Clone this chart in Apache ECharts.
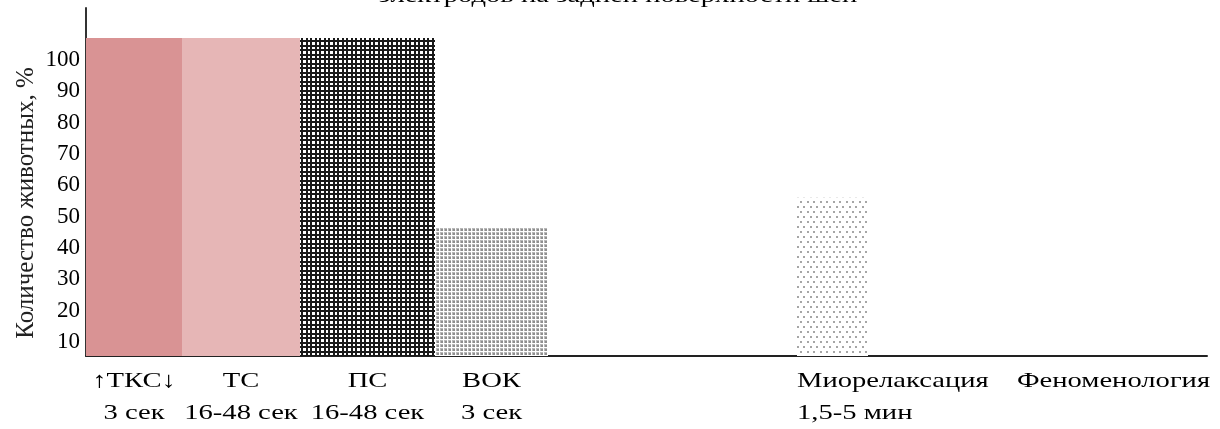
<!DOCTYPE html>
<html>
<head>
<meta charset="utf-8">
<script src="https://cdn.jsdelivr.net/npm/echarts@6/dist/echarts.min.js"></script>
<style>
  html, body { margin: 0; padding: 0; background: #fff; }
  #chart { width: 1220px; height: 429px; }
</style>
</head>
<body>
<div id="chart"></div>
<script>
// data
const categories = ['↑ТКС↓', 'ТС', 'ПС', 'ВОК', 'Миорелаксация', 'Феноменология'];
const durations = ['3 сек', '16-48 сек', '16-48 сек', '3 сек', '1,5-5 мин', ''];
const values = [107, 107, 107, 46.4, 56, 0];
// extent of each column along the horizontal scale
const spanStart = [0, 96, 214, 349, 711, 934];
const spanEnd = [96, 214, 349, 462, 782, 1121];
const yTicks = [10, 20, 30, 40, 50, 60, 70, 80, 90, 100];

const Y_MIN = 5.5, Y_MAX = 116.6;
const FONT = '"Liberation Serif", "DejaVu Serif", serif';
const STRETCH = 1.3; // the source text is wider than plain Times

function pattern(w, h, draw) {
    const c = document.createElement('canvas');
    c.width = w; c.height = h;
    const ctx = c.getContext('2d');
    ctx.fillStyle = '#fff';
    ctx.fillRect(0, 0, w, h);
    draw(ctx);
    return { image: c, repeat: 'repeat' };
}

const gridFill = pattern(9, 9, function (ctx) {
    ctx.fillStyle = '#1a1a1a';
    ctx.fillRect(0, 0, 9, 2);
    ctx.fillRect(0, 4, 9, 2);
    ctx.fillRect(0, 0, 2, 9);
    ctx.fillRect(4, 0, 2, 9);
});
const denseDots = pattern(4, 4, function (ctx) {
    ctx.fillStyle = '#b8b8b8';
    ctx.fillRect(0, 0, 3, 3);
    ctx.fillStyle = '#8e8e8e';
    ctx.fillRect(1, 1, 2, 2);
});
const sparseDots = pattern(13, 10, function (ctx) {
    ctx.fillStyle = '#a6a6a6';
    ctx.fillRect(1, 1, 2, 2);
    ctx.fillRect(7, 1, 2, 2);
    ctx.fillRect(4, 6, 2, 2);
    ctx.fillRect(10, 6, 2, 2);
});

const fills = ['#d99394', '#e6b6b6', gridFill, denseDots, sparseDots, '#fff'];
const labelAlign = ['center', 'center', 'center', 'center', 'left', 'center'];

let myChart = echarts.init(document.getElementById('chart'));

function label(text, x, y, align) {
    return {
        type: 'text',
        x: x, y: y,
        scaleX: STRETCH,
        style: {
            x: 0, y: 0,
            text: text,
            font: '22px ' + FONT,
            fill: '#000',
            align: align,
            verticalAlign: 'middle'
        }
    };
}

let option = {
    animation: false,
    grid: { left: 86, right: 13, top: 8, bottom: 73 },
    xAxis: {
        type: 'value',
        min: 0,
        max: 1121,
        axisLine: { show: true, onZero: false, lineStyle: { color: '#222', width: 2 } },
        axisTick: { show: false },
        axisLabel: { show: false },
        splitLine: { show: false }
    },
    yAxis: {
        type: 'value',
        min: Y_MIN,
        max: Y_MAX,
        axisLine: { show: true, lineStyle: { color: '#333', width: 2 } },
        axisTick: { show: false },
        splitLine: { show: false },
        axisLabel: {
            customValues: yTicks,
            color: '#000',
            fontFamily: FONT,
            fontSize: 23,
            margin: 6
        }
    },
    graphic: [
        {
            type: 'text',
            x: 618,
            y: -15,
            scaleX: STRETCH,
            style: {
                x: 0, y: 0,
                text: 'электродов на задней поверхности шеи',
                font: '22px ' + FONT,
                fill: '#000',
                align: 'center'
            }
        },
        {
            type: 'text',
            x: 26,
            y: 203,
            rotation: Math.PI / 2,
            style: {
                text: 'Количество животных, %',
                font: '25px ' + FONT,
                fill: '#222',
                align: 'center',
                verticalAlign: 'middle'
            }
        }
    ],
    series: [
        {
            type: 'custom',
            clip: false,
            data: categories.map((c, i) => [spanStart[i], spanEnd[i], values[i]]),
            renderItem: function (params, api) {
                const i = params.dataIndex;
                const top = api.coord([api.value(0), api.value(2) > 0 ? api.value(2) : Y_MIN]);
                const bottom = api.coord([api.value(1), Y_MIN]);
                const children = [];
                if (api.value(2) > 0) {
                    children.push({
                        type: 'rect',
                        shape: { x: top[0], y: top[1], width: bottom[0] - top[0], height: bottom[1] - top[1] },
                        style: { fill: fills[i] }
                    });
                }
                const tx = labelAlign[i] === 'left' ? top[0] : (top[0] + bottom[0]) / 2;
                children.push(label(categories[i], tx, bottom[1] + 25, labelAlign[i]));
                children.push(label(durations[i], tx, bottom[1] + 57, labelAlign[i]));
                return { type: 'group', children: children };
            }
        }
    ]
};
myChart.setOption(option);
</script>
</body>
</html>
